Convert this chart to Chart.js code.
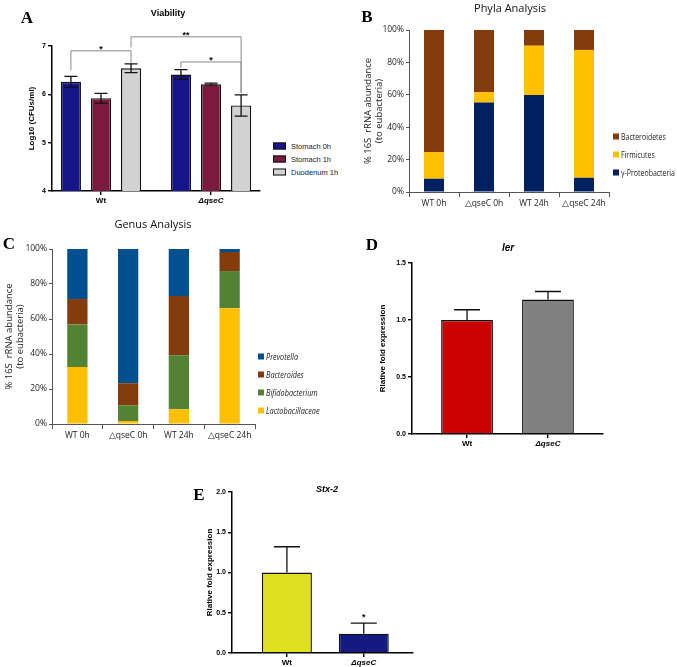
<!DOCTYPE html>
<html>
<head>
<meta charset="utf-8">
<script src="https://cdn.jsdelivr.net/npm/chart.js"></script>
<style>
body { margin: 0; background: #fff; }
#page { position: relative; width: 677px; height: 667px; overflow: hidden; background: #fff; }
canvas { position: absolute; }
.txt { position: absolute; transform: translate(-50%, -50%); white-space: nowrap; }
.letter { font-family: 'Liberation Serif', serif; font-weight: bold; font-size: 17px; color: #000; }
.gp { font-family: 'Liberation Sans', Arial, sans-serif; font-weight: bold; font-size: 9px; color: #000; }
.xl { font-family: 'Open Sans', sans-serif; font-size: 11px; color: #111; }
.item { position: absolute; display: flex; align-items: center; white-space: nowrap; transform: translateY(-50%); color: #222; }
.item span.sw { display: inline-block; box-sizing: border-box; flex: none; }
.item span.lb { display: inline-block; transform-origin: left center; }
</style>
</head>
<body>
<div id="page">
  <canvas id="chartA" width="270" height="215" style="left:0;top:0"></canvas>
  <canvas id="chartB" width="285" height="215" style="left:340px;top:0"></canvas>
  <canvas id="chartC" width="262" height="223" style="left:0;top:225px"></canvas>
  <canvas id="chartD" width="280" height="200" style="left:340px;top:255px"></canvas>
  <canvas id="chartE" width="250" height="187" style="left:180px;top:480px"></canvas>

  <div class="txt letter" style="left:27px;top:18px">A</div>
  <div class="txt letter" style="left:367px;top:17px">B</div>
  <div class="txt letter" style="left:9px;top:244px">C</div>
  <div class="txt letter" style="left:372px;top:245px">D</div>
  <div class="txt letter" style="left:199px;top:495px">E</div>

  <div class="txt gp" style="left:168px;top:13px">Viability</div>
  <div class="txt xl" style="left:510px;top:7px">Phyla Analysis</div>
  <div class="txt xl" style="left:153px;top:223px">Genus Analysis</div>
  <div class="txt gp" style="left:508px;top:247px;font-style:italic;font-size:10px">ler</div>
  <div class="txt gp" style="left:327px;top:489px;font-style:italic">Stx-2</div>
</div>

<script>
// ---- A: Viability ----
const viabilityGroups = ['Wt', 'ΔqseC'];
const viabilitySeries = ['Stomach 0h', 'Stomach 1h', 'Duodenum 1h'];
const viabilityColors = ['#16168a', '#7b1a3e', '#d2d2d2'];
const stomach0h = [6.26, 6.41];
const stomach1h = [5.92, 6.21];
const duodenum1h = [6.54, 5.77];
const stomach0hErr = [0.11, 0.1];
const stomach1hErr = [0.1, 0.02];
const duodenum1hErr = [0.09, 0.22];
// 显著性: [数据集, 序号] 对, 横线高度, 两端下沿
const viabilitySig = [
    { a: [0, 0], b: [2, 0], level: 6.9, legA: 6.5, legB: 6.65, text: '*' },
    { a: [2, 0], b: [2, 1], level: 7.19, legA: 6.97, legB: 6.03, text: '**' },
    { a: [0, 1], b: [2, 1], level: 6.67, legA: 6.55, legB: 6.03, text: '*' }
];

// ---- B: Phyla ----
const sampleLabels = ['WT 0h', '△qseC 0h', 'WT 24h', '△qseC 24h'];
const phylaSeries = ['γ-Proteobacteria', 'Firmicutes', 'Bacteroidetes'];
const phylaColors = ['#002060', '#ffc000', '#843c0c'];
const proteobacteria = [8.2, 55.2, 59.8, 8.8];
const firmicutes = [16.4, 6.4, 30.5, 78.9];
const bacteroidetes = [75.4, 38.4, 9.7, 12.3];

// ---- C: Genus ----
const genusSeries = ['Lactobacillaceae', 'Bifidobacterium', 'Bacteroides', 'Prevotella'];
const genusColors = ['#ffc000', '#548235', '#843c0c', '#00508f'];
const lactobacillaceae = [32.6, 1.7, 8.4, 66.2];
const bifidobacterium = [24.3, 9.0, 30.9, 21.2];
const bacteroides = [14.5, 12.6, 33.8, 10.9];
const prevotella = [28.6, 76.7, 26.9, 1.7];

// ---- D: ler ----
const strainLabels = ['Wt', 'ΔqseC'];
const lerValues = [1.0, 1.18];
const lerErr = [0.09, 0.07];
const lerColors = ['#cc0000', '#808080'];

// ---- E: Stx-2 ----
const stxValues = [1.0, 0.24];
const stxErr = [0.32, 0.13];
const stxColors = ['#e0e022', '#131a80'];
const stxStars = [{ at: [0, 1], level: 0.48, text: '*' }];

const GP_FONT = "'Liberation Sans', Arial, sans-serif";
const XL_FONT = "'Open Sans', sans-serif";

// 误差线插件
function errorBars(errors, upOnly, cap) {
    return {
        id: 'errorBars',
        afterDatasetsDraw(chart) {
            const ctx = chart.ctx;
            const y = chart.scales.y;
            ctx.save();
            ctx.strokeStyle = '#111';
            ctx.lineWidth = 1.3;
            errors.forEach((errs, di) => {
                const meta = chart.getDatasetMeta(di);
                errs.forEach((e, i) => {
                    const bar = meta.data[i];
                    const v = meta._parsed[i].y;
                    const top = y.getPixelForValue(v + e);
                    const bottom = y.getPixelForValue(upOnly ? v : v - e);
                    ctx.beginPath();
                    ctx.moveTo(bar.x, top);
                    ctx.lineTo(bar.x, bottom);
                    ctx.moveTo(bar.x - cap / 2, top);
                    ctx.lineTo(bar.x + cap / 2, top);
                    if (!upOnly) {
                        ctx.moveTo(bar.x - cap / 2, bottom);
                        ctx.lineTo(bar.x + cap / 2, bottom);
                    }
                    ctx.stroke();
                });
            });
            ctx.restore();
        }
    };
}

// 显著性括号插件
function sigMarks(brackets, stars) {
    return {
        id: 'sigMarks',
        afterDraw(chart) {
            const ctx = chart.ctx;
            const y = chart.scales.y;
            const px = p => chart.getDatasetMeta(p[0]).data[p[1]].x;
            ctx.save();
            ctx.font = 'bold 9px ' + GP_FONT;
            ctx.textAlign = 'center';
            ctx.textBaseline = 'alphabetic';
            (brackets || []).forEach(b => {
                const xa = px(b.a), xb = px(b.b);
                const yl = y.getPixelForValue(b.level);
                ctx.strokeStyle = '#8a8a8a';
                ctx.lineWidth = 1;
                ctx.beginPath();
                ctx.moveTo(xa, y.getPixelForValue(b.legA));
                ctx.lineTo(xa, yl);
                ctx.lineTo(xb, yl);
                ctx.lineTo(xb, y.getPixelForValue(b.legB));
                ctx.stroke();
                ctx.fillStyle = '#000';
                ctx.fillText(b.text, (xa + xb) / 2, yl + 1);
            });
            (stars || []).forEach(s => {
                ctx.fillStyle = '#000';
                ctx.fillText(s.text, px(s.at), y.getPixelForValue(s.level) + 6);
            });
            ctx.restore();
        }
    };
}

// GraphPad 风格的 y 轴
function gpY(min, max, step, width, title, titlePad, digits) {
    return {
        min: min, max: max,
        afterFit: s => { s.width = width; },
        ticks: {
            stepSize: step, padding: 2, color: '#000',
            font: { family: GP_FONT, size: 7, weight: 'bold' },
            callback: v => v.toFixed(digits)
        },
        grid: { drawOnChartArea: false, tickLength: 4, color: '#000', lineWidth: 1.4 },
        border: { display: true, color: '#000', width: 1.5 },
        title: {
            display: true, text: title, color: '#000',
            font: { family: GP_FONT, size: 8, weight: 'bold' },
            padding: { top: titlePad, bottom: 0 }
        }
    };
}

// GraphPad 风格的 x 轴 (线性, 刻度放在组中心)
function gpX(labels, min, max, height) {
    return {
        type: 'linear', min: min, max: max, offset: false,
        afterFit: s => { s.height = height; },
        afterBuildTicks: s => { s.ticks = labels.map((l, i) => ({ value: i })); },
        ticks: {
            padding: 1, color: '#000', autoSkip: false, maxRotation: 0,
            font: c => ({ family: GP_FONT, size: 8, weight: 'bold', style: c.index === 1 ? 'italic' : 'normal' }),
            callback: v => labels[v]
        },
        grid: { drawOnChartArea: false, offset: false, tickLength: 4, color: '#000', lineWidth: 1.4 },
        border: { display: true, color: '#000', width: 1.5 }
    };
}

// Excel 风格的轴
function xlY(width, title, titlePad) {
    return {
        stacked: true, min: 0, max: 100,
        afterFit: s => { s.width = width; },
        ticks: {
            stepSize: 20, padding: 2, color: '#222',
            font: { family: XL_FONT, size: 8.5 },
            callback: v => v + '%'
        },
        grid: { drawOnChartArea: false, tickLength: 3, color: '#555' },
        border: { display: true, color: '#555', width: 1 },
        title: {
            display: true, text: title, color: '#222',
            font: { family: XL_FONT, size: 9.5, lineHeight: 1.18 },
            padding: { top: titlePad, bottom: 0 }
        }
    };
}

function xlX(height) {
    return {
        stacked: true,
        afterFit: s => { s.height = height; },
        ticks: { padding: 1, color: '#222', maxRotation: 0, autoSkip: false, font: { family: XL_FONT, size: 8.5 } },
        grid: { drawOnChartArea: false, tickLength: 5, color: '#555' },
        border: { display: true, color: '#555', width: 1 }
    };
}

const baseOptions = {
    responsive: false,
    animation: false,
    events: [],
    plugins: { legend: { display: false }, tooltip: { enabled: false } }
};

function pointsOf(values) {
    return values.map((v, i) => ({ x: i, y: v }));
}

// 图例 (HTML)
function buildLegend(x, ys, names, colors, sw, font, squeeze) {
    const page = document.getElementById('page');
    names.forEach((name, i) => {
        const item = document.createElement('div');
        item.className = 'item';
        item.style.left = x + 'px';
        item.style.top = ys[i] + 'px';
        item.style.font = font;
        const box = document.createElement('span');
        box.className = 'sw';
        box.style.width = sw.w + 'px';
        box.style.height = sw.h + 'px';
        box.style.background = colors[i];
        box.style.border = sw.border;
        box.style.marginRight = sw.gap + 'px';
        item.appendChild(box);
        const label = document.createElement('span');
        label.className = 'lb';
        label.textContent = name;
        if (squeeze) label.style.transform = 'scaleX(' + squeeze + ')';
        item.appendChild(label);
        page.appendChild(item);
    });
}

window.onload = function() {
    // A
    const viabilityData = [stomach0h, stomach1h, duodenum1h];
    new Chart(document.getElementById('chartA'), {
        type: 'bar',
        data: {
            datasets: viabilityData.map((d, i) => ({
                label: viabilitySeries[i],
                data: pointsOf(d),
                backgroundColor: viabilityColors[i],
                borderColor: '#111',
                borderWidth: 1.4,
                categoryPercentage: 0.82,
                barPercentage: 0.67
            }))
        },
        options: Object.assign({}, baseOptions, {
            layout: { padding: { top: 46, right: 10, left: 0, bottom: 0 } },
            scales: {
                x: gpX(viabilityGroups, -0.445, 1.445, 24),
                y: gpY(4, 7, 1, 52, 'Log10 (CFUs/ml)', 27, 0)
            }
        }),
        plugins: [
            errorBars([stomach0hErr, stomach1hErr, duodenum1hErr], false, 13),
            sigMarks(viabilitySig, [])
        ]
    });
    buildLegend(273, [146, 159, 172], viabilitySeries, viabilityColors,
        { w: 13, h: 7, border: '1px solid #111', gap: 5 }, "7.5px " + GP_FONT, 0);

    // B
    const phylaData = [proteobacteria, firmicutes, bacteroidetes];
    new Chart(document.getElementById('chartB'), {
        type: 'bar',
        data: {
            labels: sampleLabels,
            datasets: phylaData.map((d, i) => ({
                label: phylaSeries[i],
                data: d,
                backgroundColor: phylaColors[i],
                borderWidth: 0,
                categoryPercentage: 1,
                barPercentage: 0.4
            }))
        },
        options: Object.assign({}, baseOptions, {
            layout: { padding: { top: 30, right: 16, left: 0, bottom: 0 } },
            scales: {
                x: xlX(23),
                y: xlY(69, ['% 16S  rRNA abundance', '(to eubacteria)'], 22.5)
            }
        })
    });
    buildLegend(613, [136, 154, 172], phylaSeries.slice().reverse(), phylaColors.slice().reverse(),
        { w: 6, h: 6, border: 'none', gap: 2 }, "8.5px " + XL_FONT, 0.82);

    // C
    const genusData = [lactobacillaceae, bifidobacterium, bacteroides, prevotella];
    new Chart(document.getElementById('chartC'), {
        type: 'bar',
        data: {
            labels: sampleLabels,
            datasets: genusData.map((d, i) => ({
                label: genusSeries[i],
                data: d,
                backgroundColor: genusColors[i],
                borderWidth: 0,
                categoryPercentage: 1,
                barPercentage: 0.4
            }))
        },
        options: Object.assign({}, baseOptions, {
            layout: { padding: { top: 24, right: 7, left: 0, bottom: 0 } },
            scales: {
                x: xlX(24),
                y: xlY(52, ['% 16S  rRNA abundance', '(to eubacteria)'], 3.5)
            }
        })
    });
    buildLegend(258, [356, 374, 392, 410], genusSeries.slice().reverse(), genusColors.slice().reverse(),
        { w: 6, h: 6, border: 'none', gap: 2 }, "italic 8.5px " + XL_FONT, 0.86);

    // D
    new Chart(document.getElementById('chartD'), {
        type: 'bar',
        data: {
            datasets: [{
                label: 'ler',
                data: pointsOf(lerValues),
                backgroundColor: lerColors,
                borderColor: '#111',
                borderWidth: 1.4,
                categoryPercentage: 1,
                barPercentage: 0.64
            }]
        },
        options: Object.assign({}, baseOptions, {
            layout: { padding: { top: 8, right: 17, left: 0, bottom: 0 } },
            scales: {
                x: gpX(strainLabels, -0.68, 1.68, 21),
                y: gpY(0, 1.5, 0.5, 72, 'Rlative fold expression', 38, 1)
            }
        }),
        plugins: [errorBars([lerErr], true, 26)]
    });

    // E
    new Chart(document.getElementById('chartE'), {
        type: 'bar',
        data: {
            datasets: [{
                label: 'Stx-2',
                data: pointsOf(stxValues),
                backgroundColor: stxColors,
                borderColor: '#111',
                borderWidth: 1.4,
                categoryPercentage: 1,
                barPercentage: 0.65
            }]
        },
        options: Object.assign({}, baseOptions, {
            layout: { padding: { top: 12, right: 17, left: 0, bottom: 0 } },
            scales: {
                x: gpX(strainLabels, -0.714, 1.64, 14),
                y: gpY(0, 2, 0.5, 52, 'Rlative fold expression', 25, 1)
            }
        }),
        plugins: [errorBars([stxErr], true, 26), sigMarks([], stxStars)]
    });
};
</script>
</body>
</html>
